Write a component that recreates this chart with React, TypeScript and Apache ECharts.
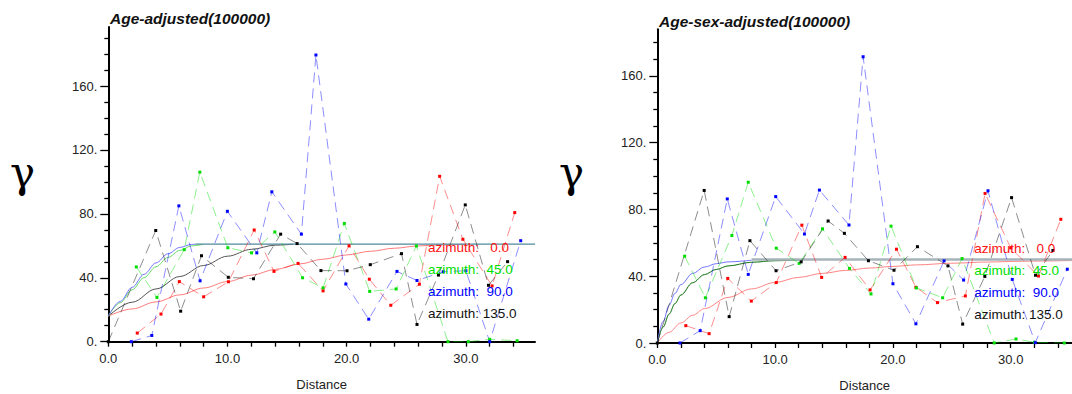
import React, { useEffect, useRef } from "react";
import * as echarts from "echarts";

// ---------------- data ----------------
const azimuths = ["0.0", "45.0", "90.0", "135.0"];
const panelTitles = ["Age-adjusted(100000)", "Age-sex-adjusted(100000)"];
const yAxisSymbol = "γ";
const xAxisName = "Distance";

const xLabelTicks = [0, 10, 20, 30];
const xTickMarks = [0, 2, 4, 6, 8, 10, 12, 14, 16, 18, 20, 22, 24, 26, 28, 30, 32, 34];
const yLabelTicks = [0, 40, 80, 120, 160];
const yMinorTicks = [10, 20, 30, 50, 60, 70, 90, 100, 110, 130, 140, 150, 170, 180, 190];

type Pt = [number, number];

// Age-adjusted — empirical semivariogram per azimuth
const ageAz0: Pt[] = [[2.43, 5.4], [4.42, 17.3], [5.96, 37.6], [8.0, 28.1], [10.08, 37.5], [12.24, 69.9], [13.9, 44.0], [15.92, 49.0], [18.02, 31.8], [20.2, 60.0], [21.9, 39.1], [23.7, 22.8], [26.1, 36.0], [27.8, 103.5], [29.75, 64.1], [32.2, 34.9], [34.1, 80.8]];
const ageAz45: Pt[] = [[2.35, 46.8], [4.08, 27.7], [6.37, 57.6], [7.68, 106.1], [10.03, 58.8], [12.02, 55.6], [13.97, 68.7], [16.3, 40.0], [18.02, 33.7], [19.8, 74.0], [21.93, 31.5], [24.15, 33.0], [25.85, 59.9], [28.5, 0], [30.2, 0], [32.0, 1.5], [34.3, 0.6]];
const ageAz90: Pt[] = [[1.93, 0], [3.65, 3.9], [5.92, 85.0], [7.7, 38.1], [9.99, 81.6], [12.46, 55.6], [13.72, 93.8], [16.2, 67.3], [17.42, 179.4], [19.93, 36.1], [21.85, 14.1], [24.22, 44.0], [25.9, 38.3], [28.1, 43.8], [30.0, 44.4], [32.0, 0], [34.6, 63.2]];
const ageAz135: Pt[] = [[0, 0], [3.98, 69.6], [6.07, 19.1], [7.82, 53.8], [10.07, 40.3], [12.18, 39.4], [14.46, 67.3], [15.84, 61.4], [17.84, 44.5], [20.03, 44.4], [21.98, 48.2], [24.6, 55.1], [25.9, 10.8], [27.7, 41.7], [29.95, 85.6], [31.9, 35.3], [33.5, 50.1]];

// Age-adjusted — fitted model curves
const ageModel0: Pt[] = [[0, 16], [2, 20.5], [4, 24.9], [6, 29.3], [8, 33.6], [10, 37.6], [12, 41.6], [14, 45.2], [16, 48.6], [18, 51.6], [20, 54.3], [22, 56.6], [24, 58.5], [26, 59.9], [28, 60.7], [30, 61]];
const ageModel45: Pt[] = [[0, 16], [1, 24.4], [2, 32.5], [3, 40.1], [4, 46.9], [5, 52.7], [6, 57.1], [7, 60.0], [8, 61]];
const ageModel90: Pt[] = [[0, 16], [1, 25.2], [2, 34.0], [3, 42.2], [4, 49.3], [5, 55.0], [6, 59.0], [7, 60.9], [7.3, 61]];
const ageModel135: Pt[] = [[0, 16], [2, 24.7], [4, 33.0], [6, 40.8], [8, 47.7], [10, 53.5], [12, 57.8], [14, 60.4], [15.5, 61]];
const ageSill: Pt[] = [[7.3, 61], [35.8, 61]];

// Age-sex-adjusted — empirical semivariogram per azimuth
const sexAz0: Pt[] = [[2.42, 10.4], [4.4, 5.6], [5.98, 38.7], [7.98, 25.1], [10.1, 36.2], [12.27, 70.6], [13.95, 39.3], [15.94, 51.3], [18.06, 31.8], [20.3, 56.2], [21.95, 33.4], [23.78, 24.2], [26.15, 28.2], [27.82, 89.6], [30.0, 57.0], [32.35, 40.1], [34.25, 74.1]];
const sexAz45: Pt[] = [[2.32, 52.0], [4.08, 27.1], [6.33, 64.4], [7.72, 96.3], [10.1, 56.8], [12.04, 47.7], [14.02, 68.4], [16.31, 44.7], [18.14, 29.4], [19.84, 70.0], [21.99, 33.0], [24.22, 27.1], [25.87, 50.6], [28.6, 0], [30.45, 2.4], [32.0, 0.4], [34.55, 0]];
const sexAz90: Pt[] = [[1.92, 0], [3.64, 7.4], [5.94, 86.3], [7.72, 41.1], [10.05, 87.7], [12.49, 65.3], [13.76, 91.6], [16.27, 70.7], [17.47, 171.5], [20.0, 35.5], [21.95, 11.5], [24.34, 49.2], [26.0, 37.7], [28.07, 91.2], [30.13, 38.1], [32.08, 0.2], [34.8, 44.2]];
const sexAz135: Pt[] = [[0, 0], [3.98, 91.4], [6.1, 15.8], [7.86, 61.3], [10.08, 43.3], [12.21, 48.6], [14.5, 73.1], [15.88, 65.7], [17.92, 49.3], [20.09, 43.6], [22.08, 57.7], [24.67, 46.2], [25.92, 11.3], [27.8, 39.9], [30.07, 87.1], [32.1, 40.6], [33.58, 55.4]];

// Age-sex-adjusted — fitted model curves
const sexModel0: Pt[] = [[0, 0], [1, 6.4], [2, 12.0], [3, 16.6], [4, 20.6], [6, 27.3], [8, 32.4], [10, 36.3], [12, 39.3], [14, 41.7], [16, 43.5], [18, 44.9], [20, 45.9], [22, 46.8], [25, 47.8], [28, 48.5], [31, 49.0], [35.2, 49.4]];
const sexModel45: Pt[] = [[0, 0], [0.5, 9.7], [1, 17.4], [1.5, 23.7], [2, 28.8], [3, 36.2], [4, 41.0], [5, 44.1], [6, 46.2], [8, 48.4], [10, 49.3], [12, 49.7]];
const sexModel90: Pt[] = [[0, 0], [0.5, 13.0], [1, 22.6], [1.5, 29.7], [2, 35.0], [3, 41.7], [4, 45.5], [5, 47.5], [6, 48.6], [8, 49.6]];
const sexModel135: Pt[] = [[0, 0], [0.5, 9.5], [1, 17.2], [1.5, 23.5], [2, 28.6], [3, 36.0], [4, 40.9], [5, 44.0], [6, 46.1], [8, 48.3], [10, 49.3], [12, 49.7]];
const sexSill: Pt[] = [[8, 50], [35.2, 50]];

// ---------------- styling / layout ----------------
const FONT = '"Liberation Sans", Arial, Helvetica, sans-serif';
const SERIF = '"DejaVu Serif", serif';
const POINT_COLORS = ["#ff0000", "#00dd00", "#0000ff", "#000000"];
const TEXT_COLORS = ["#ff1010", "#00e000", "#0000ff", "#111111"];

const panels = [
  {
    grid: { left: 108.3, top: 26.9, width: 426.7, height: 314.8 },
    xMax: 35.8,
    yMax: 197,
    emp: [ageAz0, ageAz45, ageAz90, ageAz135],
    mod: [ageModel0, ageModel45, ageModel90, ageModel135],
    sill: ageSill,
    modelColors: ["#ff7c7c", "#66dd66", "#7474ff", "#555555"],
    sillColor: "#4f8a9b",
    sillWidth: 1.2,
    title: { x: 110, y: 18.5 },
    gamma: { x: 10, y: 172 },
    legend: { x: 428, y: 247.5 },
  },
  {
    grid: { left: 657.3, top: 29.2, width: 414.7, height: 313.8 },
    xMax: 35.2,
    yMax: 188,
    emp: [sexAz0, sexAz45, sexAz90, sexAz135],
    mod: [sexModel0, sexModel45, sexModel90, sexModel135],
    sill: sexSill,
    modelColors: ["#ff8484", "#3aaa3a", "#7474ff", "rgba(0,40,0,0.35)"],
    sillColor: "#a6b3ba",
    sillWidth: 2.5,
    title: { x: 659, y: 21 },
    gamma: { x: 559, y: 172 },
    legend: { x: 974.3, y: 248.5 },
  },
];

function buildOption() {
  const grid: any[] = [];
  const xAxis: any[] = [];
  const yAxis: any[] = [];
  const series: any[] = [];
  const graphic: any[] = [];

  panels.forEach((p, pi) => {
    grid.push({ ...p.grid, containLabel: false, outerBoundsMode: "none" });
    xAxis.push({
      type: "value",
      gridIndex: pi,
      min: 0,
      max: p.xMax,
      name: xAxisName,
      nameLocation: "middle",
      nameGap: 36,
      nameTextStyle: { fontFamily: FONT, fontSize: 13, color: "#222" },
      axisLine: { show: true, onZero: false, lineStyle: { color: "#000", width: 2 } },
      axisTick: { show: true, customValues: xTickMarks, length: 5, lineStyle: { color: "#000", width: 1.3 } },
      axisLabel: {
        customValues: xLabelTicks,
        formatter: (v: number) => v.toFixed(1),
        margin: 10,
        fontFamily: FONT,
        fontSize: 13,
        color: "#222",
      },
      splitLine: { show: false },
    });
    yAxis.push({
      type: "value",
      gridIndex: pi,
      position: "left",
      min: 0,
      max: p.yMax,
      axisLine: { show: true, lineStyle: { color: "#000", width: 2 } },
      axisTick: { show: true, customValues: yLabelTicks, length: 8, lineStyle: { color: "#000", width: 1.3 } },
      axisLabel: {
        customValues: yLabelTicks,
        formatter: (v: number) => `${v}.`,
        margin: 11,
        fontFamily: FONT,
        fontSize: 13,
        color: "#222",
      },
      splitLine: { show: false },
    });
    yAxis.push({
      type: "value",
      gridIndex: pi,
      position: "left",
      min: 0,
      max: p.yMax,
      axisLine: { show: false },
      axisTick: { show: true, customValues: yMinorTicks, length: 4, lineStyle: { color: "#000", width: 1.3 } },
      axisLabel: { show: false },
      splitLine: { show: false },
    });

    const yIdx = pi * 2;
    p.mod.forEach((d, i) => {
      series.push({
        type: "line",
        xAxisIndex: pi,
        yAxisIndex: yIdx,
        data: d,
        symbol: "none",
        smooth: 0.35,
        smoothMonotone: "x",
        lineStyle: { color: p.modelColors[i], width: 1 },
        z: 2,
        silent: true,
      });
    });
    series.push({
      type: "line",
      xAxisIndex: pi,
      yAxisIndex: yIdx,
      data: p.sill,
      symbol: "none",
      lineStyle: { color: p.sillColor, width: p.sillWidth },
      z: 2,
      silent: true,
    });
    p.emp.forEach((d, i) => {
      series.push({
        type: "line",
        xAxisIndex: pi,
        yAxisIndex: yIdx,
        data: d,
        symbol: "rect",
        symbolSize: 3,
        showSymbol: true,
        lineStyle: { color: POINT_COLORS[i], width: 1, type: [10, 6], opacity: 0.45 },
        itemStyle: { color: POINT_COLORS[i] },
        z: 3,
        silent: true,
      });
    });

    graphic.push({
      type: "text",
      x: p.title.x,
      y: p.title.y,
      silent: true,
      style: {
        text: panelTitles[pi],
        fill: "#111",
        fontFamily: FONT,
        fontSize: 15.5,
        fontWeight: "bold",
        fontStyle: "italic",
        align: "left",
        verticalAlign: "middle",
        textAlign: "left",
        textVerticalAlign: "middle",
      },
    });
    graphic.push({
      type: "text",
      x: p.gamma.x,
      y: p.gamma.y,
      silent: true,
      style: {
        text: yAxisSymbol,
        fill: "#000",
        fontFamily: SERIF,
        fontSize: 42,
        align: "left",
        verticalAlign: "middle",
        textAlign: "left",
        textVerticalAlign: "middle",
      },
    });
    azimuths.forEach((a, i) => {
      graphic.push({
        type: "text",
        x: p.legend.x,
        y: p.legend.y + i * 22,
        silent: true,
        z: 100,
        style: {
          text: "azimuth:" + a.padStart(6, "\u00a0"),
          fill: TEXT_COLORS[i],
          fontFamily: FONT,
          fontSize: 13.5,
          align: "left",
          verticalAlign: "middle",
          textAlign: "left",
          textVerticalAlign: "middle",
        },
      });
    });
  });

  return {
    animation: false,
    backgroundColor: "#ffffff",
    grid,
    xAxis,
    yAxis,
    series,
    graphic,
  };
}

export default function App() {
  const ref = useRef<HTMLDivElement>(null);
  useEffect(() => {
    const prev = document.body.style.margin;
    document.body.style.margin = "0";
    const chart = echarts.init(ref.current!, null, { renderer: "svg", width: 1072, height: 394 });
    chart.setOption(buildOption() as any);
    return () => {
      chart.dispose();
      document.body.style.margin = prev;
    };
  }, []);
  return <div ref={ref} style={{ width: 1072, height: 394 }} />;
}
